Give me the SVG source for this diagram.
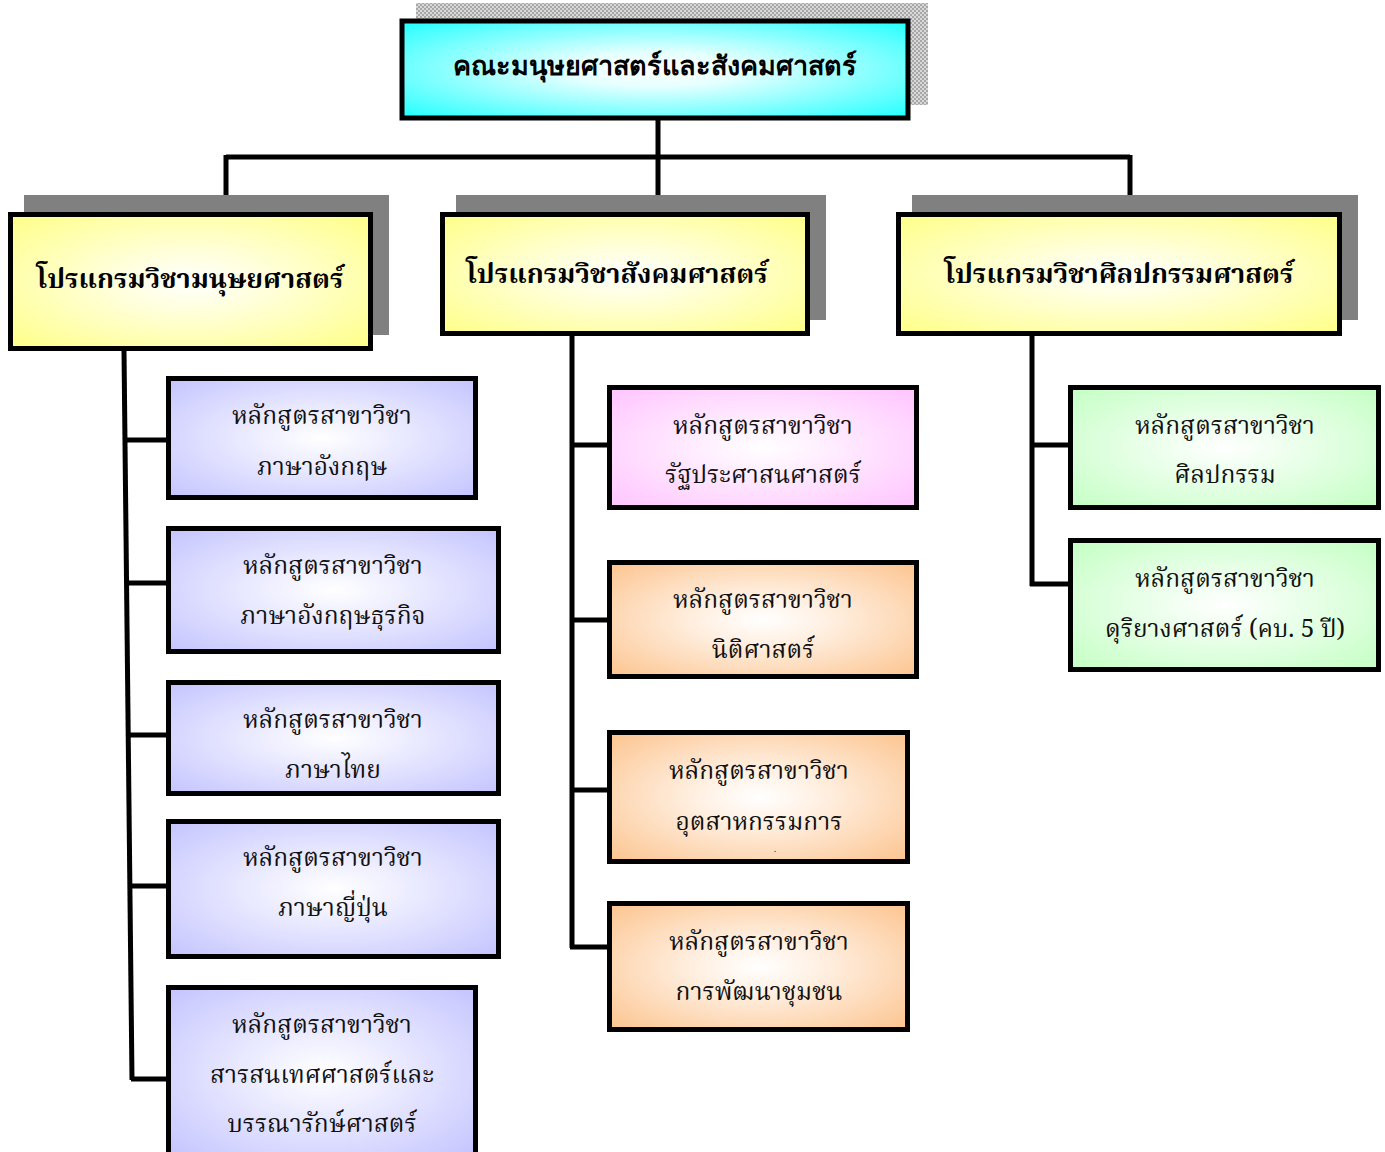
<svg xmlns="http://www.w3.org/2000/svg" width="1385" height="1152" viewBox="0 0 1385 1152">
<defs>
<radialGradient id="gCyan" cx="50%" cy="50%" r="70%"><stop offset="0" stop-color="#ffffff"/><stop offset="0.25" stop-color="#e6ffff"/><stop offset="1" stop-color="#22ffff"/></radialGradient>
<radialGradient id="gYel" cx="50%" cy="50%" r="70%"><stop offset="0" stop-color="#ffffff"/><stop offset="0.3" stop-color="#ffffdd"/><stop offset="1" stop-color="#ffff88"/></radialGradient>
<radialGradient id="gLav" cx="50%" cy="50%" r="70%"><stop offset="0" stop-color="#ffffff"/><stop offset="0.3" stop-color="#eeeeff"/><stop offset="1" stop-color="#c4c4ff"/></radialGradient>
<radialGradient id="gPink" cx="50%" cy="50%" r="70%"><stop offset="0" stop-color="#ffffff"/><stop offset="0.3" stop-color="#ffeeff"/><stop offset="1" stop-color="#ffc4ff"/></radialGradient>
<radialGradient id="gOr" cx="50%" cy="50%" r="70%"><stop offset="0" stop-color="#ffffff"/><stop offset="0.3" stop-color="#fff0e2"/><stop offset="1" stop-color="#fcc48f"/></radialGradient>
<radialGradient id="gGr" cx="50%" cy="50%" r="70%"><stop offset="0" stop-color="#ffffff"/><stop offset="0.3" stop-color="#eeffee"/><stop offset="1" stop-color="#c4ffc4"/></radialGradient>
<pattern id="hatch" width="4" height="4" patternUnits="userSpaceOnUse"><rect width="4" height="4" fill="#d8d8d8"/><rect width="2" height="2" fill="#a8a8a8"/><rect x="2" y="2" width="2" height="2" fill="#a8a8a8"/></pattern>
</defs>
<style>
.box{stroke:#000;stroke-width:5}
.sh{fill:#808080}
.ln{stroke:#000;stroke-width:5;fill:none}
.t{font-family:"Noto Serif Thai","Liberation Serif","DejaVu Serif",serif;font-size:24.5px;fill:#111;text-anchor:middle}
.h{font-family:"Noto Serif Thai","Liberation Serif","DejaVu Serif",serif;font-size:27px;font-weight:bold;fill:#000;text-anchor:middle}
.top{font-family:"Liberation Sans","DejaVu Sans",sans-serif;font-size:27px;font-weight:bold;fill:#000;text-anchor:middle}
</style>
<g id="connectors">
<path class="ln" d="M658 120 V157 M226 157 H1130 M226 155 V213 M658 155 V213 M1130 155 V213"/>
<path class="ln" d="M124 351 L132 1080"/>
<path class="ln" d="M125 440 H168 M127 583 H168 M128 735 H168 M130 886 H168 M131 1079 H168"/>
<path class="ln" d="M572 335 V948 M570 445 H610 M570 620 H610 M570 790 H610 M570 947 H610"/>
<path class="ln" d="M1032 335 V586 M1030 445 H1070 M1030 584 H1070"/>
</g>
<g id="faculty">
<rect x="416" y="3" width="512" height="102" fill="url(#hatch)"/>
<rect class="box" x="402" y="21" width="506" height="97" fill="url(#gCyan)" stroke-width="6"/>
<text class="top" x="655" y="75">คณะมนุษยศาสตร์และสังคมศาสตร์</text>
</g>
<g id="prog-human">
<rect class="sh" x="24" y="195" width="365" height="140"/>
<rect class="box" x="10.5" y="214.5" width="360" height="134" fill="url(#gYel)"/>
<text class="h" x="190" y="288">โปรแกรมวิชามนุษยศาสตร์</text>
</g>
<g id="prog-social">
<rect class="sh" x="456" y="195" width="370" height="125"/>
<rect class="box" x="442.5" y="214.5" width="365" height="119" fill="url(#gYel)"/>
<text class="h" x="617" y="283">โปรแกรมวิชาสังคมศาสตร์</text>
</g>
<g id="prog-arts">
<rect class="sh" x="912" y="195" width="446" height="125"/>
<rect class="box" x="898.5" y="214.5" width="441" height="119" fill="url(#gYel)"/>
<text class="h" x="1119" y="283">โปรแกรมวิชาศิลปกรรมศาสตร์</text>
</g>
<g id="c-english">
<rect class="box" x="168.5" y="378.5" width="307" height="119" fill="url(#gLav)"/>
<text class="t" x="322" y="424">หลักสูตรสาขาวิชา</text>
<text class="t" x="322" y="475">ภาษาอังกฤษ</text>
</g>
<g id="c-bizenglish">
<rect class="box" x="168.5" y="528.5" width="330" height="123" fill="url(#gLav)"/>
<text class="t" x="333" y="574">หลักสูตรสาขาวิชา</text>
<text class="t" x="333" y="624">ภาษาอังกฤษธุรกิจ</text>
</g>
<g id="c-thai">
<rect class="box" x="168.5" y="682.5" width="330" height="111" fill="url(#gLav)"/>
<text class="t" x="333" y="728">หลักสูตรสาขาวิชา</text>
<text class="t" x="333" y="778">ภาษาไทย</text>
</g>
<g id="c-japanese">
<rect class="box" x="168.5" y="821.5" width="330" height="135" fill="url(#gLav)"/>
<text class="t" x="333" y="866">หลักสูตรสาขาวิชา</text>
<text class="t" x="333" y="916">ภาษาญี่ปุ่น</text>
</g>
<g id="c-library">
<rect class="box" x="168.5" y="987.5" width="307" height="170" fill="url(#gLav)"/>
<text class="t" x="322" y="1033">หลักสูตรสาขาวิชา</text>
<text class="t" x="322" y="1083">สารสนเทศศาสตร์และ</text>
<text class="t" x="322" y="1132">บรรณารักษ์ศาสตร์</text>
</g>
<g id="c-polsci">
<rect class="box" x="609.5" y="387.5" width="307" height="120" fill="url(#gPink)"/>
<text class="t" x="763" y="434">หลักสูตรสาขาวิชา</text>
<text class="t" x="763" y="483">รัฐประศาสนศาสตร์</text>
</g>
<g id="c-law">
<rect class="box" x="609.5" y="562.5" width="307" height="114" fill="url(#gOr)"/>
<text class="t" x="763" y="608">หลักสูตรสาขาวิชา</text>
<text class="t" x="763" y="658">นิติศาสตร์</text>
</g>
<g id="c-industrial">
<rect class="box" x="609.5" y="732.5" width="298" height="129" fill="url(#gOr)"/>
<text class="t" x="759" y="779">หลักสูตรสาขาวิชา</text>
<text class="t" x="759" y="830">อุตสาหกรรมการ</text>
<text class="t" x="775" y="852" style="font-size:8px">.</text>
</g>
<g id="c-community">
<rect class="box" x="609.5" y="903.5" width="298" height="126" fill="url(#gOr)"/>
<text class="t" x="759" y="950">หลักสูตรสาขาวิชา</text>
<text class="t" x="759" y="1000">การพัฒนาชุมชน</text>
</g>
<g id="c-finearts">
<rect class="box" x="1070.5" y="387.5" width="308" height="120" fill="url(#gGr)"/>
<text class="t" x="1225" y="434">หลักสูตรสาขาวิชา</text>
<text class="t" x="1225" y="483">ศิลปกรรม</text>
</g>
<g id="c-music">
<rect class="box" x="1070.5" y="540.5" width="308" height="129" fill="url(#gGr)"/>
<text class="t" x="1225" y="587">หลักสูตรสาขาวิชา</text>
<text class="t" x="1225" y="637">ดุริยางศาสตร์ (คบ. 5 ปี)</text>
</g>
</svg>
